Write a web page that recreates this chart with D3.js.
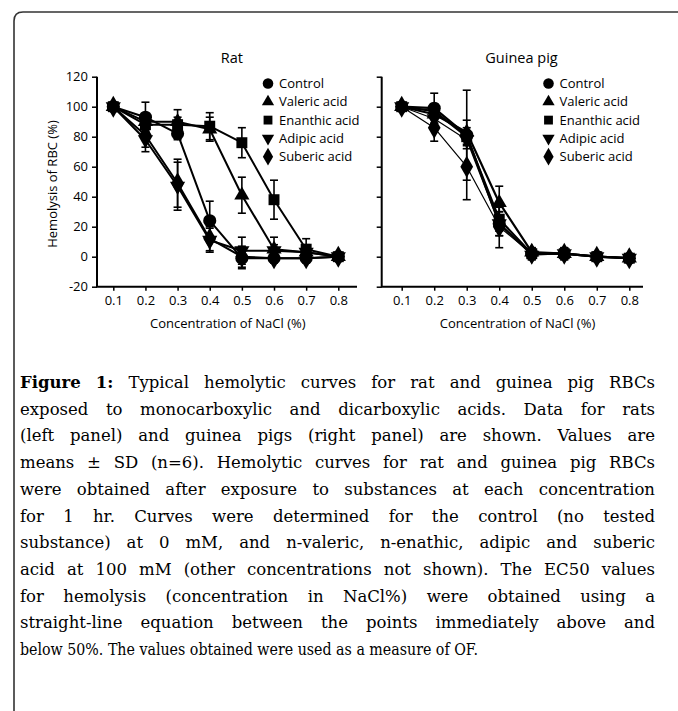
<!DOCTYPE html>
<html lang="en">
<head>
<meta charset="UTF-8">
<title>Hemolytic curves</title>
<style>
  body { margin: 0; background: #fff; }
  svg { display: block; }
</style>
</head>
<body>
<script src="https://d3js.org/d3.v7.min.js"></script>
<script>
// ---- data ----
const concentrations = [0.1, 0.2, 0.3, 0.4, 0.5, 0.6, 0.7, 0.8];
const seriesNames = ["Control", "Valeric acid", "Enanthic acid", "Adipic acid", "Suberic acid"];
const yTicks = [-20, 0, 20, 40, 60, 80, 100, 120];

// rat, % hemolysis (mean), one row per series
const ratMeans = [
  [100, 93, 82, 24, -1, -1, -1, 0],   // control
  [100, 90, 90, 85, 41, 5, 3, 0],     // valeric
  [100, 88, 88, 87, 76, 38, 5, 0],    // enanthic
  [100, 78, 47, 11, 4, 4, 3, 0],      // adipic
  [100, 81, 49, 12, 0, -1, -1, 0]     // suberic
];
const ratSD = [
  [0, 10, 4, 13, 7, 3, 3, 1],
  [0, 5, 8, 8, 12, 8, 5, 1],
  [0, 4, 5, 9, 10, 13, 7, 1],
  [0, 8, 16, 8, 9, 4, 3, 1],
  [0, 8, 16, 8, 7, 3, 3, 1]
];
// guinea pig
const gpMeans = [
  [100, 99, 81, 22, 2, 2, 0, -1],
  [100, 95, 83, 36, 3, 2, 0, -1],
  [100, 97, 80, 25, 2, 2, 0, -1],
  [100, 92, 78, 22, 1, 2, 0, -1],
  [100, 86, 60, 20, 2, 2, 0, -1]
];
const gpSD = [
  [0, 10, 30, 8, 3, 4, 3, 2],
  [0, 6, 8, 11, 3, 3, 3, 2],
  [0, 5, 6, 8, 3, 3, 2, 2],
  [0, 6, 6, 8, 3, 3, 2, 2],
  [0, 9, 22, 14, 4, 4, 3, 2]
];

const captionLines = [
  "Typical hemolytic curves for rat and guinea pig RBCs",
  "exposed to monocarboxylic and dicarboxylic acids. Data for rats",
  "(left panel) and guinea pigs (right panel) are shown. Values are",
  "means \u00b1 SD (n=6). Hemolytic curves for rat and guinea pig RBCs",
  "were obtained after exposure to substances at each concentration",
  "for 1 hr. Curves were determined for the control (no tested",
  "substance) at 0 mM, and n-valeric, n-enathic, adipic and suberic",
  "acid at 100 mM (other concentrations not shown). The EC50 values",
  "for hemolysis (concentration in NaCl%) were obtained using a",
  "straight-line equation between the points immediately above and",
  "below 50%. The values obtained were used as a measure of OF."
];

// ---- setup ----
const width = 678, height = 711;
const sansFont = "'Open Sans', sans-serif";
const serifFont = "'DejaVu Serif', serif";

const svg = d3.select("body").append("svg")
  .attr("width", width)
  .attr("height", height);

// frame with rounded top-left corner
svg.append("path")
  .attr("d", "M14,711 L14,21 Q14,12 23,12 L678,12")
  .attr("fill", "none")
  .attr("stroke", "#333")
  .attr("stroke-width", 1.6);

const y = d3.scaleLinear().domain([-20, 120]).range([286.7, 76.7]);

const symbolTypes = [d3.symbolCircle, d3.symbolTriangle, d3.symbolSquare, d3.symbolTriangle, d3.symbolDiamond];
const symbolRotate = [0, 0, 0, 180, 0];
const symbolSizes = [135, 100, 120, 100, 140];

function drawPanel(opts) {
  const g = svg.append("g");
  const x = d3.scaleLinear().domain([0.1, 0.8]).range(opts.xRange);

  // x axis
  const xAxis = g.append("g")
    .attr("transform", `translate(0,${y(-20)})`)
    .call(d3.axisBottom(x).tickValues(concentrations).tickSize(4).tickPadding(5)
      .tickFormat(d3.format(".1f")));
  xAxis.select(".domain").remove();
  xAxis.selectAll(".tick line").attr("stroke", "#000").attr("stroke-width", 1.5);
  xAxis.selectAll("text").attr("font-family", sansFont).attr("font-size", 13).attr("fill", "#000");

  // y axis
  const yAxis = g.append("g")
    .attr("transform", `translate(${opts.axisLeft},0)`)
    .call(d3.axisLeft(y).tickValues(yTicks).tickSize(5).tickPadding(4)
      .tickFormat(opts.yLabels ? (d => String(d)) : () => ""));
  yAxis.select(".domain").remove();
  yAxis.selectAll(".tick line").attr("stroke", "#000").attr("stroke-width", 1.5);
  yAxis.selectAll("text").attr("font-family", sansFont).attr("font-size", 13).attr("fill", "#000");

  // axis lines
  g.append("path")
    .attr("d", `M${opts.axisLeft},${y(120)} V${y(-20)} H${opts.axisRight}`)
    .attr("fill", "none")
    .attr("stroke", "#000")
    .attr("stroke-width", 2);

  // title
  g.append("text")
    .attr("x", (opts.xRange[0] + opts.xRange[1]) / 2 + opts.titleShift)
    .attr("y", 63)
    .attr("text-anchor", "middle")
    .attr("font-family", sansFont)
    .attr("font-size", 14.5)
    .text(opts.title);

  // x title
  g.append("text")
    .attr("x", (opts.xRange[0] + opts.xRange[1]) / 2 + 2)
    .attr("y", 328)
    .attr("text-anchor", "middle")
    .attr("font-family", sansFont)
    .attr("font-size", 13)
    .text("Concentration of NaCl (%)");

  const line = d3.line()
    .x((d, i) => x(concentrations[i]))
    .y(d => y(d));

  // lines
  opts.means.forEach((m, s) => {
    g.append("path")
      .datum(m)
      .attr("d", line)
      .attr("fill", "none")
      .attr("stroke", "#000")
      .attr("stroke-width", opts.lineWidths[s])
      .attr("stroke-linejoin", "round");
  });

  // error bars
  opts.means.forEach((m, s) => {
    const eb = g.append("g").selectAll("g")
      .data(m.map((v, i) => ({ c: concentrations[i], v: v, sd: opts.sds[s][i] })).filter(d => d.sd > 1))
      .join("g")
      .attr("stroke", "#000")
      .attr("stroke-width", 1.6);
    eb.append("line")
      .attr("x1", d => x(d.c)).attr("x2", d => x(d.c))
      .attr("y1", d => y(d.v - d.sd)).attr("y2", d => y(d.v + d.sd));
    eb.append("line")
      .attr("x1", d => x(d.c) - 4).attr("x2", d => x(d.c) + 4)
      .attr("y1", d => y(d.v + d.sd)).attr("y2", d => y(d.v + d.sd));
    eb.append("line")
      .attr("x1", d => x(d.c) - 4).attr("x2", d => x(d.c) + 4)
      .attr("y1", d => y(d.v - d.sd)).attr("y2", d => y(d.v - d.sd));
  });

  // markers
  opts.means.forEach((m, s) => {
    g.append("g").selectAll("path")
      .data(m)
      .join("path")
      .attr("d", d3.symbol().type(symbolTypes[s]).size(symbolSizes[s]))
      .attr("transform", (d, i) => `translate(${x(concentrations[i])},${y(d)}) rotate(${symbolRotate[s]})`)
      .attr("fill", "#000");
  });

  // legend
  const leg = g.append("g").selectAll("g")
    .data(seriesNames)
    .join("g")
    .attr("transform", (d, i) => `translate(${opts.legendX},${83.5 + i * 18.3})`);
  leg.append("path")
    .attr("d", (d, i) => d3.symbol().type(symbolTypes[i]).size(symbolSizes[i] * 0.65)())
    .attr("transform", (d, i) => `rotate(${symbolRotate[i]})`)
    .attr("fill", "#000");
  leg.append("text")
    .attr("x", 11)
    .attr("y", 4.5)
    .attr("font-family", sansFont)
    .attr("font-size", 13)
    .text(d => d);

  return g;
}

drawPanel({
  title: "Rat", titleShift: 6,
  means: ratMeans, sds: ratSD,
  xRange: [113.3, 338.3], axisLeft: 97, axisRight: 357,
  yLabels: true, legendX: 268,
  lineWidths: [2, 2, 2, 2, 2]
});

drawPanel({
  title: "Guinea pig", titleShift: 6,
  means: gpMeans, sds: gpSD,
  xRange: [401.7, 629.3], axisLeft: 381.7, axisRight: 643,
  yLabels: false, legendX: 548.5,
  lineWidths: [2.2, 2.2, 2.2, 1.2, 1.2]
});

// y title
svg.append("text")
  .attr("transform", "translate(57,184) rotate(-90)")
  .attr("text-anchor", "middle")
  .attr("font-family", sansFont)
  .attr("font-size", 13)
  .text("Hemolysis of RBC (%)");

// ---- caption, justified word by word ----
const capLeft = 20, capRight = 655, capTop = 388, capStep = 26.7, capSize = 16.5;
const lastLineWidth = 458;
const cap = svg.append("g")
  .attr("font-family", serifFont)
  .attr("font-size", capSize)
  .attr("fill", "#000");

captionLines.forEach((ln, li) => {
  const yy = capTop + li * capStep;
  if (li === captionLines.length - 1) {
    // last line is set tighter in the original
    cap.append("text")
      .attr("x", capLeft)
      .attr("y", yy)
      .attr("textLength", lastLineWidth)
      .attr("lengthAdjust", "spacingAndGlyphs")
      .text(ln);
    return;
  }
  let tokens = ln.split(" ").map(w => ({ w: w, bold: false }));
  if (li === 0) tokens = [{ w: "Figure", bold: true }, { w: "1:", bold: true }].concat(tokens);
  const texts = tokens.map(t => cap.append("text")
    .attr("y", yy)
    .attr("font-weight", t.bold ? "bold" : "normal")
    .text(t.w));
  const widths = texts.map(t => t.node().getComputedTextLength());
  const gap = (capRight - capLeft - d3.sum(widths)) / (tokens.length - 1);
  let cx = capLeft;
  texts.forEach((t, i) => {
    t.attr("x", cx);
    cx += widths[i] + gap;
  });
});
</script>
</body>
</html>
